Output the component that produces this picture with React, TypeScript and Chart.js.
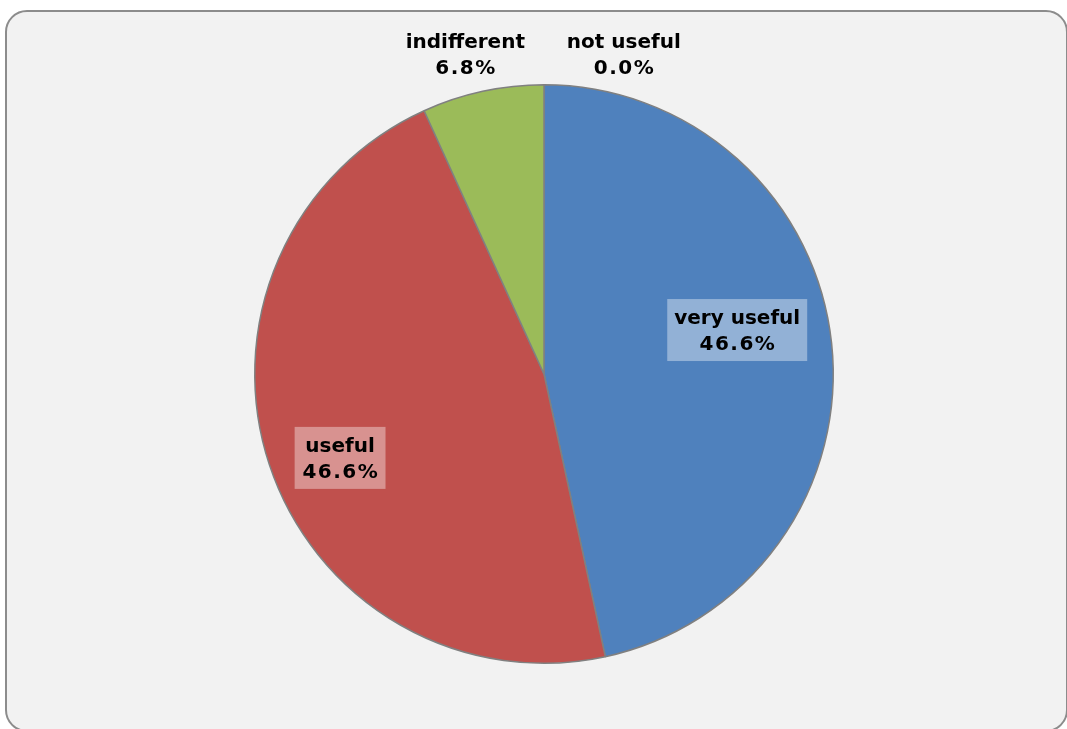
import React, { useEffect, useRef } from "react";
import { Chart, registerables } from "chart.js";

Chart.register(...registerables);

const categories = ["very useful", "useful", "indifferent", "not useful"];
const values = [46.6, 46.6, 6.8, 0.0];
const colors = ["#4F81BD", "#C0504D", "#9BBB59", "#8064A2"];
// label placement (in radius units, relative to pie centre) and whether boxed
const labelOffsets = [
  [0.668, -0.152],
  [-0.705, 0.29],
  [-0.272, -1.107],
  [0.276, -1.107],
];
const labelBoxed = [true, true, false, false];
const boxColors = ["rgba(255,255,255,0.38)", "rgba(255,255,255,0.38)", "", ""];

const labelPlugin = {
  id: "pieLabels",
  afterDatasetsDraw(chart: any) {
    const meta = chart.getDatasetMeta(0);
    const arc0 = meta.data[0];
    if (!arc0) return;
    const cx = arc0.x;
    const cy = arc0.y;
    const r = arc0.outerRadius;
    const ctx = chart.ctx;
    ctx.save();
    ctx.font = "bold 20px 'DejaVu Sans', Verdana, sans-serif";
    ctx.textAlign = "center";
    ctx.textBaseline = "middle";
    categories.forEach((c, i) => {
      const x = cx + labelOffsets[i][0] * r;
      const y = cy + labelOffsets[i][1] * r;
      const l1 = c;
      const l2 = values[i].toFixed(1) + "%";
      ctx.letterSpacing = "0px";
      const w1 = ctx.measureText(l1).width;
      ctx.letterSpacing = "1.5px";
      const w2 = ctx.measureText(l2).width;
      if (labelBoxed[i]) {
        const w = Math.max(w1, w2) + 14;
        const h = 62;
        ctx.fillStyle = boxColors[i];
        ctx.fillRect(x - w / 2, y - h / 2, w, h);
      }
      ctx.fillStyle = "#000";
      ctx.letterSpacing = "0px";
      ctx.fillText(l1, x, y - 11.5);
      ctx.letterSpacing = "1.5px";
      ctx.fillText(l2, x + 0.75, y + 15);
    });
    ctx.restore();
  },
};

export default function App() {
  const ref = useRef<HTMLCanvasElement>(null);
  useEffect(() => {
    if (!ref.current) return;
    const chart = new Chart(ref.current, {
      type: "pie",
      data: {
        labels: categories,
        datasets: [
          {
            data: values,
            backgroundColor: colors,
            borderColor: "#808080",
            borderWidth: 1.5,
          },
        ],
      },
      options: {
        animation: false,
        responsive: false,
        layout: { padding: { top: 84, bottom: 65, left: 254, right: 233 } },
        plugins: {
          legend: { display: false },
          tooltip: { enabled: false },
        },
      },
      plugins: [labelPlugin],
    });
    return () => chart.destroy();
  }, []);
  return (
    <div style={{ position: "fixed", left: 0, top: 0, width: 1067, height: 729, overflow: "hidden" }}>
      <div
        style={{
          position: "absolute",
          left: 5,
          top: 10,
          width: 1063,
          height: 722,
          boxSizing: "border-box",
          background: "#F2F2F2",
          border: "2px solid #8C8C8C",
          borderRadius: 22,
        }}
      />
      <canvas ref={ref} width={1067} height={729} style={{ position: "absolute", left: 0, top: 0 }} />
    </div>
  );
}
